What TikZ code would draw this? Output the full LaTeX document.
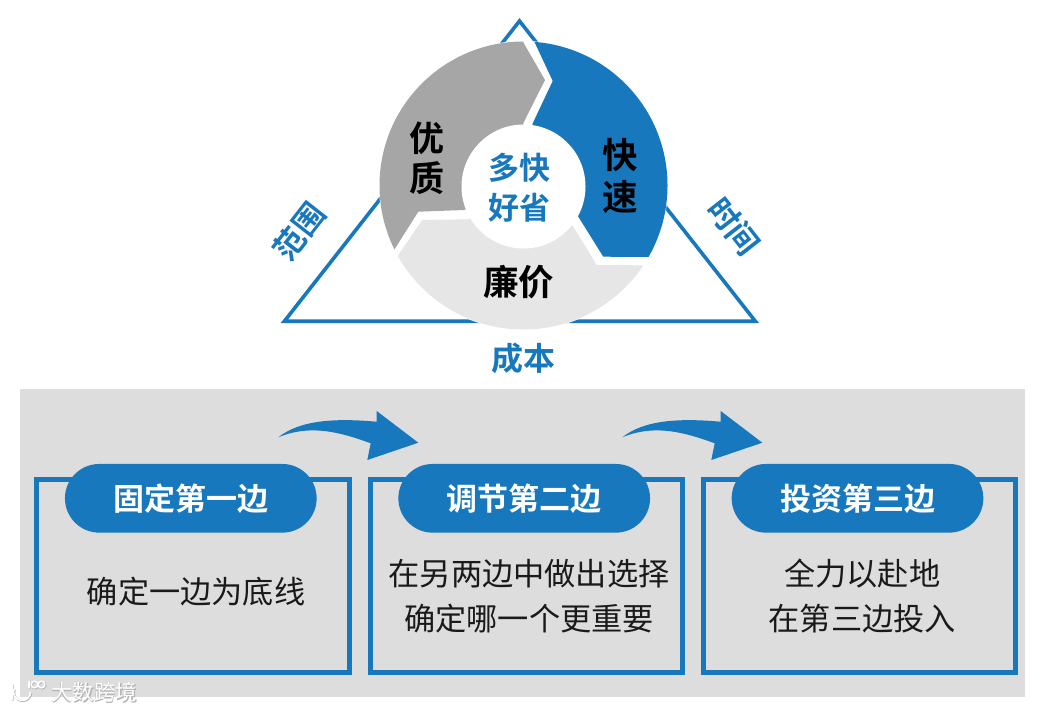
\documentclass[tikz,border=0pt]{standalone}
\usepackage{fontspec}
\setmainfont{Noto Sans CJK SC}
\newfontfamily\cjkbold{Noto Sans CJK SC Bold}
\usetikzlibrary{shapes.misc}
\definecolor{mainblue}{HTML}{1878BE}
\definecolor{segdark}{HTML}{A6A6A6}
\definecolor{seglight}{HTML}{E6E6E6}
\definecolor{panelgray}{HTML}{DDDDDD}
\definecolor{ink}{HTML}{1A1A1A}
\definecolor{wmark}{HTML}{B4B4B4}
\tikzset{
  panelbox/.style={draw=mainblue,line width=5pt,fill=panelgray,minimum width=312.4pt,minimum height=192.7pt,inner sep=0pt},
  pill/.style={rounded rectangle,fill=mainblue,text=white,minimum width=251.7pt,minimum height=68.7pt,inner sep=0pt,font=\cjkbold\fontsize{31}{36}\selectfont},
  bodytext/.style={align=center,text=ink,inner sep=0pt,font=\fontsize{31.2}{45}\selectfont},
  segtext/.style={align=center,text=black,inner sep=0pt,font=\cjkbold\fontsize{35.5}{41}\selectfont},
  sidetext/.style={text=mainblue,inner sep=0pt,font=\cjkbold\fontsize{31}{34}\selectfont},
  flowarrow/.style={fill=mainblue,draw=none},
}
\newcommand{\flowshape}{(278.3,437.3) .. controls (300,420) and (335,418) .. (376.7,421.7) -- (376.7,411) -- (418.3,442.7) -- (367.3,460) -- (370.7,443.3) .. controls (340,432) and (310,424) .. (278.3,437.3) -- cycle}
\newcommand{\logoshape}{(12,684) -- (12,700) (30.5,692) arc (0:200:8.5) (29,681) -- (29,688) (34.5,684.5) circle (3.3) (41.5,684.5) circle (3.3)}
\begin{document}
\begin{tikzpicture}[x=1pt,y=-1pt]
\useasboundingbox (0,0) rectangle (1043,712);
\fill[white] (0,0) rectangle (1043,712);
% triangle
\draw[mainblue,line width=3.6pt,miter limit=10,line join=miter] (519.5,21) -- (755.3,321.2) -- (284.4,321.2) -- cycle;
% ring
\fill[white] (523.5,185.5) circle (144.5);
\begin{scope}
\clip (523.5,185.5) circle (144);
\fill[segdark] (505,10.6) -- (545,80) -- (523.3,123.3) -- (523,186) -- (464,210) -- (418.3,211.7) -- (370,288) -- (300,288) -- (300,10.6) -- cycle;
\fill[mainblue] (520,11) -- (552.7,81) -- (532.7,123.3) -- (523,186) -- (578.3,216.7) -- (603.3,256.7) -- (700,257.3) -- (700,11) -- cycle;
\fill[seglight] (370,296) -- (398.3,255) -- (422.3,220) -- (468.3,219.3) -- (523,186) -- (573.3,226.7) -- (596.7,265) -- (700,265.7) -- (700,340) -- (350,340) -- cycle;
\end{scope}
\node[circle,fill=white,minimum size=124pt,inner sep=0pt] (hub) at (523.5,186.5) {};
\node[align=center,text=mainblue,inner sep=0pt,font=\cjkbold\fontsize{31}{40}\selectfont] (hubtext) at (519,188) {多快\\好省};
\node[segtext,font=\cjkbold\fontsize{35}{40}\selectfont] (quality) at (426.7,158) {优\\质};
\node[segtext,font=\cjkbold\fontsize{35.5}{42}\selectfont] (speed) at (620.7,176) {快\\速};
\node[segtext] (price) at (518.7,281.7) {廉价};
% side labels
\node[sidetext,rotate=52] (scope) at (299.3,231.7) {范围};
\node[sidetext,rotate=-52] (time) at (734,226.7) {时间};
\node[sidetext,font=\cjkbold\fontsize{32}{34}\selectfont] (cost) at (523.3,358.3) {成本};
% panel
\fill[panelgray] (20,388.5) rectangle (1025,696.7);
\node[panelbox] (box1) at (193,576.2) {};
\node[panelbox] (box2) at (526.5,576.2) {};
\node[panelbox] (box3) at (859.5,576.2) {};
\node[pill] (pill1) at (190.8,498.3) {固定第一边};
\node[pill] (pill2) at (524.2,498.3) {调节第二边};
\node[pill] (pill3) at (857.5,498.3) {投资第三边};
\node[bodytext] (text1) at (196,592) {确定一边为底线};
\node[bodytext] (text2) at (529,596) {在另两边中做出选择\\确定哪一个更重要};
\node[bodytext] (text3) at (862.3,596) {全力以赴地\\在第三边投入};
% arrows
\fill[flowarrow] \flowshape;
\begin{scope}[shift={(344,0)}]
\fill[flowarrow] \flowshape;
\end{scope}
% watermark
\node[text=wmark,inner sep=0pt,font=\cjkbold\fontsize{21.5}{24}\selectfont] (wmshadow) at (94.8,692.8) {大数跨境};
\node[text=white,inner sep=0pt,font=\fontsize{21.5}{24}\selectfont] (wm) at (94,692) {大数跨境};
\begin{scope}[shift={(0.7,0.7)}]
\draw[wmark,line width=2pt] \logoshape;
\end{scope}
\draw[white,line width=1.6pt] \logoshape;
\end{tikzpicture}
\end{document}
